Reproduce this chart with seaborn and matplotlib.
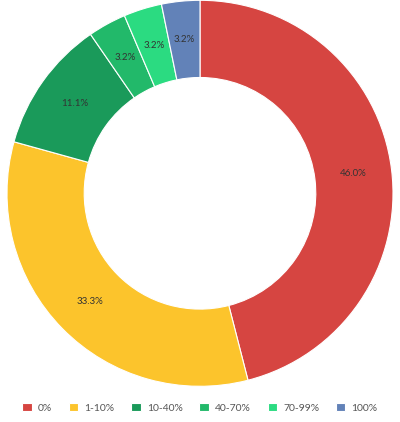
import matplotlib
matplotlib.use("Agg")
import matplotlib.pyplot as plt
import seaborn as sns

sns.set_theme(style="white")
plt.rcParams['font.family'] = ['Lato', 'DejaVu Sans']

categories = ["0%", "1-10%", "10-40%", "40-70%", "70-99%", "100%"]
values = [46.0, 33.3, 11.1, 3.2, 3.2, 3.2]
colors = ["#d64541", "#fcc42c", "#1a9a5a", "#22b96a", "#2bdb81", "#6282b8"]

fig = plt.figure(figsize=(4.0, 4.22), dpi=100)
ax = fig.add_axes([0.0175, 0.0846, 0.965, 0.9147])
wedges, _ = ax.pie(values, colors=colors, startangle=90, counterclock=False,
                   radius=1.0, wedgeprops=dict(width=0.4, edgecolor="white", linewidth=0.8))
import numpy as np
start = 90
for v, w in zip(values, wedges):
    mid = np.deg2rad((w.theta1 + w.theta2) / 2)
    r = 0.8
    ax.text(r*np.cos(mid), r*np.sin(mid), f"{v:.1f}%", ha="center", va="center",
            fontsize=7, color="#333333")
ax.set_aspect("equal")
ax.set_xlim(-1.0, 1.0)
ax.set_ylim(-1.0, 1.0)
fig.legend(wedges, categories, loc="lower center", ncol=6, frameon=False,
           fontsize=7.5, handlelength=0.9, handleheight=0.9, columnspacing=1.6,
           handletextpad=0.6, bbox_to_anchor=(0.5, 0.0), labelcolor="#555555")
fig.savefig("out.png", dpi=100)
